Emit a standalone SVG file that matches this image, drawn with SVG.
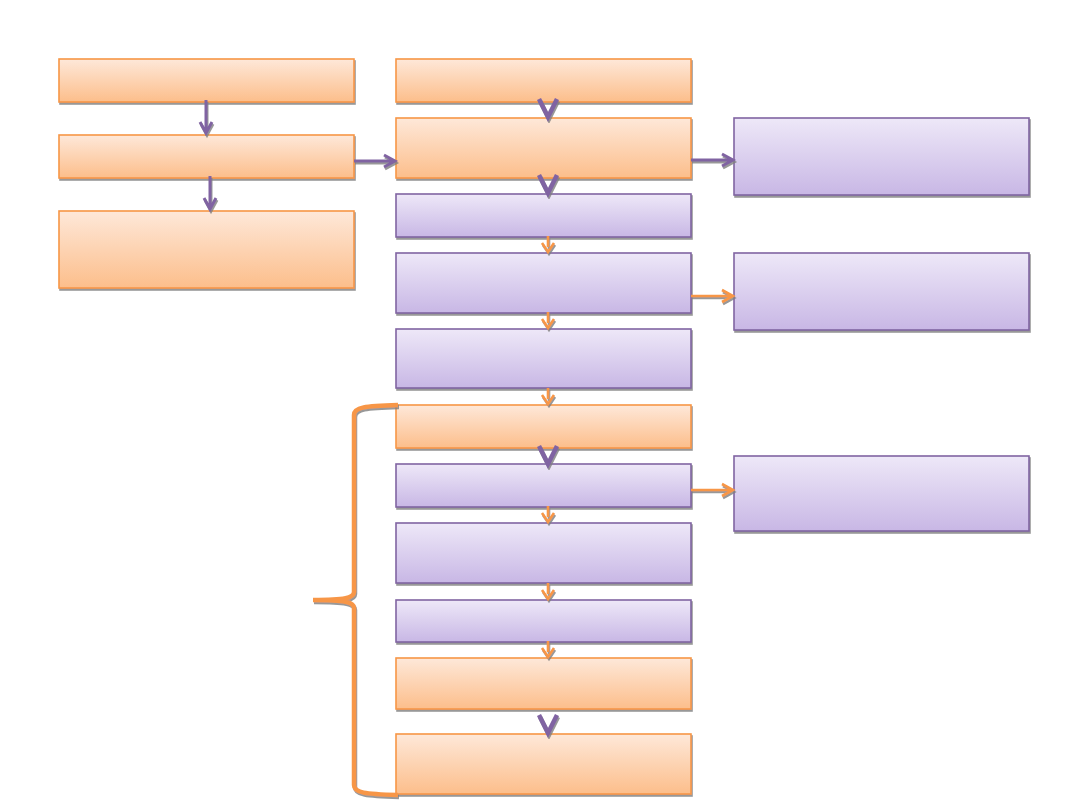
<svg xmlns="http://www.w3.org/2000/svg" width="1080" height="810" viewBox="0 0 1080 810">
<defs>
<linearGradient id="go" x1="0" y1="0" x2="0" y2="1"><stop offset="0" stop-color="#fee8d9"/><stop offset="1" stop-color="#fcbe8b"/></linearGradient>
<linearGradient id="gp" x1="0" y1="0" x2="0" y2="1"><stop offset="0" stop-color="#eee8f8"/><stop offset="1" stop-color="#c8b7e5"/></linearGradient>
<filter id="sh" x="-10%" y="-10%" width="130%" height="140%"><feDropShadow dx="1" dy="2" stdDeviation="0.6" flood-color="#7f7f7f" flood-opacity="0.8"/></filter>
<style>
.o{fill:url(#go);stroke:#f79646;stroke-width:1.6;filter:url(#sh)}
.p{fill:url(#gp);stroke:#8064a2;stroke-width:1.6;filter:url(#sh)}
.ap{fill:none;stroke:#8064a2;stroke-width:3;filter:url(#sh)}
.ao{fill:none;stroke:#f79646;stroke-width:2.6;filter:url(#sh)}
.v{fill:none;stroke:#8064a2;stroke-width:4.5;filter:url(#sh)}
.br{fill:none;stroke:#f79646;stroke-width:4.5;filter:url(#sh)}
</style>
</defs>
<g id="L1"><rect class="o" x="59" y="59" width="295" height="43"/></g>
<g id="L2"><rect class="o" x="59" y="135" width="295" height="43"/></g>
<g id="L3"><rect class="o" x="59" y="211" width="295" height="77"/></g>
<g id="M1"><rect class="o" x="396" y="59" width="295" height="43"/></g>
<g id="M2"><rect class="o" x="396" y="118" width="295" height="60"/></g>
<g id="M3"><rect class="p" x="396" y="194" width="295" height="43"/></g>
<g id="M4"><rect class="p" x="396" y="253" width="295" height="60"/></g>
<g id="M5"><rect class="p" x="396" y="329" width="295" height="59"/></g>
<g id="M6"><rect class="o" x="396" y="405" width="295" height="43"/></g>
<g id="M7"><rect class="p" x="396" y="464" width="295" height="43"/></g>
<g id="M8"><rect class="p" x="396" y="523" width="295" height="60"/></g>
<g id="M9"><rect class="p" x="396" y="600" width="295" height="42"/></g>
<g id="M10"><rect class="o" x="396" y="658" width="295" height="51"/></g>
<g id="M11"><rect class="o" x="396" y="734" width="295" height="60"/></g>
<g id="R1"><rect class="p" x="734" y="118" width="295" height="77"/></g>
<g id="R2"><rect class="p" x="734" y="253" width="295" height="77"/></g>
<g id="R3"><rect class="p" x="734" y="456" width="295" height="75"/></g>
<g id="brace"><path class="br" d="M398,405 C365,406 354,407 354,415 L354,592 C354,598 345,600 313,600 C345,600 354,602 354,608 L354,785 C354,793 365,794 398,795"/></g>
<g id="connectors">
<path class="ap" d="M206,100 V133 M200,122 L206,133 L212,122"/>
<path class="ap" d="M210,176 V209 M204,198 L210,209 L216,198"/>
<path class="ap" d="M354,161 H394 M384,155 L395,161 L384,167"/>
<path class="ap" d="M691,160 H732 M722,154 L733,160 L722,166"/>
<path class="ao" d="M691,296 H732 M722,290 L733,296 L722,302"/>
<path class="ao" d="M691,490 H732 M722,484 L733,490 L722,496"/>
<polyline class="v" points="539,99 548,117 557,99"/>
<polyline class="v" points="539,175 548,193 557,175"/>
<polyline class="v" points="539,446 548,464 557,446"/>
<polyline class="v" points="539,715 548,733 557,715"/>
<path class="ao" d="M548,236 V247 M542,243 L548,252 L554,243"/>
<path class="ao" d="M548,312 V323 M542,319 L548,328 L554,319"/>
<path class="ao" d="M548,388 V399 M542,395 L548,404 L554,395"/>
<path class="ao" d="M548,506 V517 M542,513 L548,522 L554,513"/>
<path class="ao" d="M548,583 V594 M542,590 L548,599 L554,590"/>
<path class="ao" d="M548,641 V652 M542,648 L548,657 L554,648"/>
</g>
</svg>
